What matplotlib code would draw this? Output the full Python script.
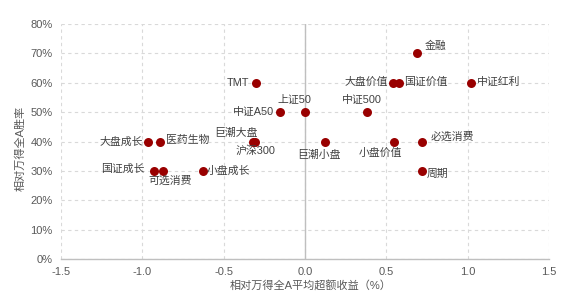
import matplotlib
matplotlib.use("Agg")
import matplotlib.pyplot as plt

plt.rcParams['font.family'] = ['Liberation Sans', 'Noto Sans CJK SC']

# index names, excess return vs Wind All-A (%), win rate (%)
names = ['金融', '大盘价值', '国证价值', '中证红利', 'TMT', '中证A50', '上证50',
         '中证500', '大盘成长', '医药生物', '巨潮大盘', '沪深300', '巨潮小盘',
         '小盘价值', '必选消费', '周期', '国证成长', '可选消费', '小盘成长']
excess = [0.69, 0.54, 0.58, 1.02, -0.30, -0.155, 0.0,
          0.38, -0.965, -0.89, -0.32, -0.31, 0.12,
          0.55, 0.72, 0.72, -0.93, -0.87, -0.63]
winrate = [70, 60, 60, 60, 60, 50, 50,
           50, 40, 40, 40, 40, 40,
           40, 40, 30, 30, 30, 30]

# label placement (pixel offsets, alignment)
offsets = [(7, 8, 'left'), (-5, 1, 'right'), (5, 1, 'left'), (6, 1, 'left'),
           (-7, 0, 'right'), (-6, 0, 'right'), (6, 13, 'right'),
           (-5, 12, 'center'), (-5, 0, 'right'), (6, 2, 'left'),
           (5, 9, 'right'), (1, -9, 'center'), (-6, -13, 'center'),
           (-14, -11, 'center'), (8, 5, 'left'), (5, -3, 'left'),
           (-9, 2, 'right'), (7, -10, 'center'), (4, 0, 'left')]

fig = plt.figure(figsize=(5.66, 2.97), dpi=100)
ax = fig.add_axes([0.1078, 0.128, 0.8622, 0.791])

grey = '#bfbfbf'
ax.grid(True, linestyle=(0, (3, 3)), color='#d9d9d9', linewidth=0.8)
ax.set_axisbelow(True)
for s in ['top', 'right', 'left']:
    ax.spines[s].set_visible(False)
ax.spines['bottom'].set_color(grey)
ax.spines['bottom'].set_linewidth(1.0)
ax.axvline(0, color=grey, linewidth=1.0, zorder=1)

ax.scatter(excess, winrate, s=42, color='#990000', zorder=3, linewidths=0)

for n, x, y, (dx, dy, ha) in zip(names, excess, winrate, offsets):
    ax.annotate(n, (x, y), xytext=(dx, dy), textcoords='offset pixels',
                ha=ha, va='center', fontsize=7.8, color='#404040', zorder=4)

ax.set_xlim(-1.5, 1.5)
ax.set_ylim(0, 80)
ax.set_xticks([-1.5, -1.0, -0.5, 0.0, 0.5, 1.0, 1.5])
ax.set_xticklabels(['-1.5', '-1.0', '-0.5', '0.0', '0.5', '1.0', '1.5'])
ax.set_yticks(range(0, 81, 10))
ax.set_yticklabels([f'{v}%' for v in range(0, 81, 10)])
ax.tick_params(axis='both', length=0, labelsize=8, labelcolor='#595959')
ax.tick_params(axis='x', pad=6)
ax.tick_params(axis='y', pad=6)

ax.set_xlabel('相对万得全A平均超额收益（%）', fontsize=8, color='#595959')
ax.set_ylabel('相对万得全A胜率', fontsize=8, color='#595959')
ax.xaxis.set_label_coords(0.512, -0.11)
ax.yaxis.set_label_coords(-0.084, 0.472)
ax.xaxis.label.set_va('center')
ax.yaxis.label.set_va('center')

fig.savefig('out.png', dpi=100)
